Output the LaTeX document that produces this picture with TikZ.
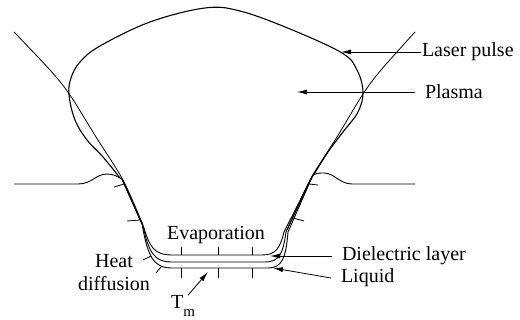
\documentclass[tikz,border=0pt]{standalone}
\usepackage{fontspec}
\setmainfont{Liberation Serif}
\usetikzlibrary{arrows.meta,calc}
\begin{document}
\begin{tikzpicture}[x=1pt,y=-1pt,
  plasmaline/.style={line width=1.1pt},
  beamline/.style={line width=0.8pt},
  layerline/.style={line width=0.9pt},
  tickmark/.style={line width=0.8pt},
  pointer/.style={line width=0.8pt,-{Latex[length=10pt,width=5pt]}},
  lbl/.style={font=\fontsize{20}{23}\selectfont, inner sep=0pt},
]
\useasboundingbox (0,0) rectangle (520,320);

% plasma plume above the crater
\draw[plasmaline] plot[smooth, tension=0.6] coordinates {
  (120,178) (103,157) (87,140) (75,120) (69,95) (71,78) (80,62)
  (100,46) (150,22) (205,8) (240,11) (290,29) (342,53) (357,70)
  (363,92) (358,112) (343,132) (328,152) (313,176)};

% laser beam envelope
\draw[beamline] plot[smooth] coordinates {(14,32) (50,70) (70,95) (96,137) (123,180) (143,225)};
\draw[beamline] plot[smooth] coordinates {(415,32) (381,70) (363,94) (337,137) (310,180) (287,230)};

% sample surface on both sides of the crater
\draw[layerline] (14,184) -- (78,184) .. controls (92,184) and (96,174) .. (107,174)
  .. controls (114,174) and (118,177) .. (122,179);
\draw[layerline] (313,175) .. controls (317,173) and (320,173) .. (324,173)
  .. controls (334,173) and (340,184) .. (352,184) -- (415,184);

% crater walls and bottom layers
\draw[layerline] (122,179) -- (144,228) .. controls (150,248) and (155,255) .. (172,255)
  -- (262,255) .. controls (276,255) and (280,248) .. (284,232) -- (313,175);
\draw[layerline] (122,179) -- (143,226) .. controls (149,254) and (155,262) .. (172,262)
  -- (265,262) .. controls (279,262) and (283,254) .. (286,232) -- (313,175);
\draw[layerline] (122,179) -- (142,224) .. controls (148,258) and (154,268) .. (172,268)
  -- (268,268) .. controls (282,268) and (286,258) .. (288,232) -- (313,175);

% isotherm ticks
\draw[tickmark] (124,184) -- (114,187);
\draw[tickmark] (140,220) -- (127,221);
\draw[tickmark] (151,256) -- (143,260);
\draw[tickmark] (161,267) -- (156,273);
\draw[tickmark] (309,184) -- (318,185);
\draw[tickmark] (293,218) -- (304,221);
\foreach \tx in {181,218,252} {
  \draw[tickmark] (\tx,247) -- (\tx,255);
  \draw[tickmark] (\tx,268) -- (\tx,278);
}

% labels and pointers
\node[lbl, anchor=west, outer sep=1pt] (lp) at (421,52) {Laser pulse};
\coordinate (lptip) at (341,52);
\draw[pointer] (lp.west) -- (lptip);

\node[lbl, anchor=west, outer sep=10pt] (pl) at (415,92) {Plasma};
\coordinate (pltip) at (297,92);
\draw[pointer] (pl.west) -- (pltip);

\node[lbl, anchor=west, outer sep=10pt] (dl) at (332,256) {Dielectric layer};
\coordinate (dltip) at (270,256);
\draw[pointer] (dl.west) -- (dltip);

\node[lbl, anchor=west, outer sep=10pt] (lq) at (331,278) {Liquid};
\coordinate (lqtip) at (273,268);
\draw[pointer] (lq.west) -- (lqtip);

\node[lbl] (ev) at (216,235) {Evaporation};
\node[lbl, align=center] (hd) at (114,273) {Heat\\diffusion};

\node[lbl] (tm) at (183,306) {T\raisebox{-8pt}{\fontsize{15}{15}\selectfont m}};
\coordinate (tmtip) at (208,272);
\draw[pointer] (tm.65) -- (tmtip);
\end{tikzpicture}
\end{document}
